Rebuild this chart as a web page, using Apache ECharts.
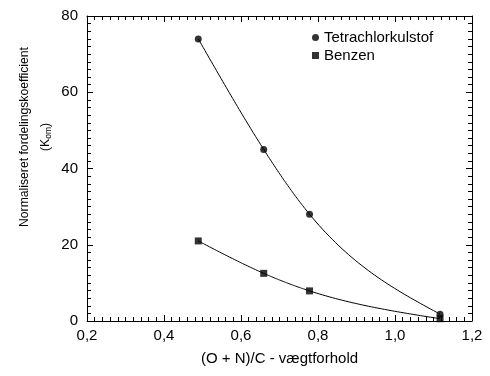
<!DOCTYPE html>
<html><head><meta charset="utf-8">
<script src="https://cdn.jsdelivr.net/npm/echarts@6/dist/echarts.min.js"></script>
<style>html,body{margin:0;padding:0;background:#fff}#c{width:490px;height:376px}</style>
</head><body><div id="c"></div>
<script>
const xValues = [0.489, 0.659, 0.778, 1.117];
const tetraValues = [74.0, 45.0, 28.0, 1.8];
const benzenValues = [21.0, 12.5, 7.9, 0.6];
const seriesNames = ['Tetrachlorkulstof', 'Benzen'];
const xTickLabels = ['0,2', '0,4', '0,6', '0,8', '1,0', '1,2'];

const FONT = 'Liberation Sans';
const chart = echarts.init(document.getElementById('c'));
const majorTick = {show: true, inside: true, length: 6, lineStyle: {color: '#000', width: 1}};
const minorTickCfg = {show: true, splitNumber: 10, length: 4, lineStyle: {color: '#000', width: 1}};
const axLine = {show: true, onZero: false, lineStyle: {color: '#000', width: 1}};
function xfmt(v) { const i = Math.round((v - 0.2) / 0.2); return xTickLabels[i] || ''; }

// natural cubic spline through the data, evaluated for drawing the connecting curve
function splineSampler(xs, ys) {
  const n = xs.length, h = [], M = new Array(n).fill(0);
  for (let i = 0; i < n - 1; i++) h.push(xs[i + 1] - xs[i]);
  const a = [], b = [], c = [], d = [];
  for (let i = 1; i < n - 1; i++) {
    a.push(h[i - 1]); b.push(2 * (h[i - 1] + h[i])); c.push(h[i]);
    d.push(6 * ((ys[i + 1] - ys[i]) / h[i] - (ys[i] - ys[i - 1]) / h[i - 1]));
  }
  const m = b.length;
  for (let i = 1; i < m; i++) { const w = a[i] / b[i - 1]; b[i] -= w * c[i - 1]; d[i] -= w * d[i - 1]; }
  const sol = new Array(m);
  for (let i = m - 1; i >= 0; i--) sol[i] = (d[i] - (i < m - 1 ? c[i] * sol[i + 1] : 0)) / b[i];
  for (let i = 0; i < m; i++) M[i + 1] = sol[i];
  return function (steps) {
    const out = [];
    for (let i = 0; i < n - 1; i++) {
      for (let k = 0; k <= steps; k++) {
        if (i > 0 && k === 0) continue;
        const x = xs[i] + h[i] * k / steps, A = (xs[i + 1] - x) / h[i], B = (x - xs[i]) / h[i];
        const y = A * ys[i] + B * ys[i + 1] + ((A * A * A - A) * M[i] + (B * B * B - B) * M[i + 1]) * h[i] * h[i] / 6;
        out.push([x, y]);
      }
    }
    return out;
  };
}

function curveSeries(ys) {
  const sampler = splineSampler(xValues, ys);
  return {
    type: 'custom', silent: true, z: 1,
    data: xValues.map((x, i) => [x, ys[i]]),
    encode: {x: 0, y: 1},
    renderItem: function (params, api) {
      if (params.dataIndex !== 0) return;
      const pts = sampler(40).map(p => api.coord(p));
      return {type: 'polyline', shape: {points: pts}, style: {stroke: '#000', lineWidth: 1, fill: null}};
    }
  };
}

function xAx(pos, labels) {
  const a = {type: 'value', min: 0.2, max: 1.2, interval: 0.2, position: pos,
    axisLine: axLine, axisTick: majorTick, minorTick: minorTickCfg,
    splitLine: {show: false}, minorSplitLine: {show: false}, axisLabel: {show: false}};
  if (labels) {
    a.name = '(O + N)/C - vægtforhold'; a.nameLocation = 'middle'; a.nameGap = 30;
    a.nameTextStyle = {fontFamily: FONT, fontSize: 15, color: '#000'};
    a.axisLabel = {fontFamily: FONT, fontSize: 15, color: '#000', margin: 7, formatter: xfmt};
  }
  return a;
}
function yAx(pos, labels) {
  const a = {type: 'value', min: 0, max: 80, interval: 20, position: pos,
    axisLine: axLine, axisTick: majorTick, minorTick: minorTickCfg,
    splitLine: {show: false}, minorSplitLine: {show: false}, axisLabel: {show: false}};
  if (labels) a.axisLabel = {fontFamily: FONT, fontSize: 15, color: '#000', margin: 9};
  return a;
}

chart.setOption({
  animation: false,
  textStyle: {fontFamily: FONT},
  grid: {left: 87, right: 18, top: 16, bottom: 55},
  legend: {
    orient: 'vertical', left: 307, top: 25, itemGap: 3, itemWidth: 7, itemHeight: 7,
    textStyle: {fontFamily: FONT, fontSize: 15, color: '#000'},
    data: [{name: seriesNames[0], icon: 'circle'}, {name: seriesNames[1], icon: 'rect'}]
  },
  xAxis: [xAx('bottom', true), xAx('top', false)],
  yAxis: [yAx('left', true), yAx('right', false)],
  graphic: [{
    type: 'text', x: 35, y: 137, rotation: Math.PI / 2,
    style: {
      text: '{a|Normaliseret fordelingskoefficient}\n{a|(K}{s|om}{a|)}',
      align: 'center', verticalAlign: 'middle', fill: '#000',
      rich: {
        a: {fontFamily: FONT, fontSize: 12.2, lineHeight: 21, fill: '#000'},
        s: {fontFamily: FONT, fontSize: 8.5, lineHeight: 21, fill: '#000', padding: [6, 0, 0, 0]}
      }
    }
  }],
  series: [
    curveSeries(tetraValues),
    curveSeries(benzenValues),
    {name: seriesNames[0], type: 'scatter', symbol: 'circle', symbolSize: 7, z: 3,
     itemStyle: {color: '#000'}, data: xValues.map((x, i) => [x, tetraValues[i]])},
    {name: seriesNames[1], type: 'scatter', symbol: 'rect', symbolSize: 7, z: 3,
     itemStyle: {color: '#000'}, data: xValues.map((x, i) => [x, benzenValues[i]])}
  ]
});
</script></body></html>
